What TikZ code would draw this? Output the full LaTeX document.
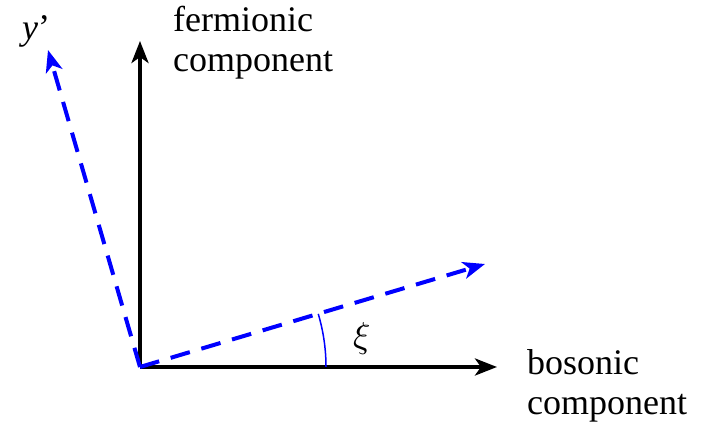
\documentclass[tikz,border=0pt]{standalone}
\usepackage{fontspec}
\usepackage{unicode-math}
\setmainfont{Liberation Serif}
\setmathfont{Latin Modern Math}
\usetikzlibrary{arrows.meta}
\begin{document}
\begin{tikzpicture}[x=1pt,y=1pt,>={Stealth[length=22pt,width=17pt,inset=6pt]},
  font=\rmfamily\fontsize{36}{40}\selectfont]
\tikzset{truc/.style={line width=4pt,->},
  xoay/.style={line width=4pt,->,blue,dash pattern=on 20pt off 12pt},
  nhan/.style={inner sep=0pt,align=left}}
\useasboundingbox (0,0) rectangle (710,427);

% Các điểm (gốc và đầu mút)
\coordinate (O) at (140,60);
\coordinate (Bx) at (497,60);
\coordinate (Fy) at (140,386);
\coordinate (Xr) at (485,163);
\coordinate (Yr) at (48,377);

% Nhãn
\node[nhan,anchor=base west] (fer) at (173,355) {fermionic\\component};
\node[nhan,anchor=base west] (bos) at (527,12) {bosonic\\component};
\node[nhan] (yp) at (36,396) {\textit{y}’};
\node[nhan] (xi) at (362,88) {$\xi$};

% Trục
\draw[truc] (O) -- (Bx);
\draw[truc] (O) -- (Fy);

% Trục xoay
\draw[xoay] (O) -- (Xr);
\draw[xoay] (O) -- (Yr);

% Góc xi
\draw[blue,line width=1.5pt] ([shift={(0:186)}]O) arc[start angle=0,end angle=16.6,radius=186];
\end{tikzpicture}
\end{document}
